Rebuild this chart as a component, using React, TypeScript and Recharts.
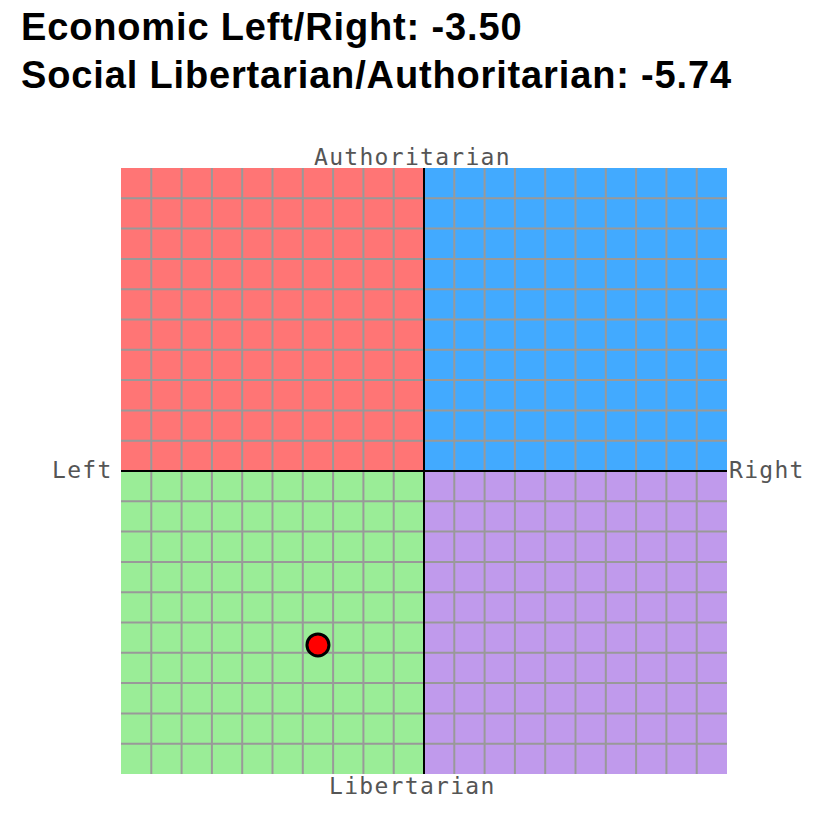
import React from "react";
import {
  ScatterChart,
  Scatter,
  XAxis,
  YAxis,
  ReferenceArea,
  ReferenceLine,
} from "recharts";

// score
const economic = -3.5;
const social = -5.74;
const point = [{ x: economic, y: social }];

const gridTicks = [-9, -8, -7, -6, -5, -4, -3, -2, -1, 1, 2, 3, 4, 5, 6, 7, 8, 9];
const domain: [number, number] = [-10, 10];

const quadrants = [
  { name: "authLeft", x1: -10, x2: 0, y1: 0, y2: 10, fill: "#ff7575" },
  { name: "authRight", x1: 0, x2: 10, y1: 0, y2: 10, fill: "#42aaff" },
  { name: "libLeft", x1: -10, x2: 0, y1: -10, y2: 0, fill: "#9aed97" },
  { name: "libRight", x1: 0, x2: 10, y1: -10, y2: 0, fill: "#c09aec" },
];

const titleLines = [
  `Economic Left/Right: ${economic.toFixed(2)}`,
  `Social Libertarian/Authoritarian: ${social.toFixed(2)}`,
];

const labelFont = {
  fontFamily: "'DejaVu Sans Mono', monospace",
  fontSize: 23,
  fill: "#555",
  letterSpacing: 1.3,
};

const Dot = (props: any) => {
  const { cx, cy } = props;
  return <circle cx={cx} cy={cy} r={11} fill="#ff0000" stroke="#000" strokeWidth={3} />;
};

export default function App() {
  return (
    <div style={{ position: "absolute", left: 0, top: 0, width: 815, height: 832, background: "#fff" }}>
      <ScatterChart
        width={815}
        height={832}
        margin={{ top: 168, right: 88, bottom: 58, left: 121 }}
      >
        <XAxis type="number" dataKey="x" domain={domain} hide />
        <YAxis type="number" dataKey="y" domain={domain} hide />
        {quadrants.map((q) => (
          <ReferenceArea
            key={q.name}
            x1={q.x1}
            x2={q.x2}
            y1={q.y1}
            y2={q.y2}
            fill={q.fill}
            fillOpacity={1}
            stroke="none"
          />
        ))}
        {gridTicks.map((t) => (
          <ReferenceLine key={"v" + t} x={t} stroke="#999" strokeWidth={2} />
        ))}
        {gridTicks.map((t) => (
          <ReferenceLine key={"h" + t} y={t} stroke="#999" strokeWidth={2} />
        ))}
        <ReferenceLine x={0} stroke="#000" strokeWidth={2} />
        <ReferenceLine y={0} stroke="#000" strokeWidth={2} />
        <Scatter data={point} shape={<Dot />} isAnimationActive={false} />
      </ScatterChart>
      <svg
        width={815}
        height={832}
        style={{ position: "absolute", left: 0, top: 0, pointerEvents: "none" }}
      >
        {titleLines.map((line, i) => (
          <text
            key={i}
            x={21}
            y={40 + i * 48}
            fontFamily="'Liberation Sans', Arial, sans-serif"
            fontWeight="bold"
            fontSize={38}
            letterSpacing={0.85}
            fill="#000"
          >
            {line}
          </text>
        ))}
        <text x={314} y={165} {...labelFont}>Authoritarian</text>
        <text x={329} y={794} {...labelFont}>Libertarian</text>
        <text x={52} y={478} {...labelFont}>Left</text>
        <text x={729} y={478} {...labelFont}>Right</text>
      </svg>
    </div>
  );
}
